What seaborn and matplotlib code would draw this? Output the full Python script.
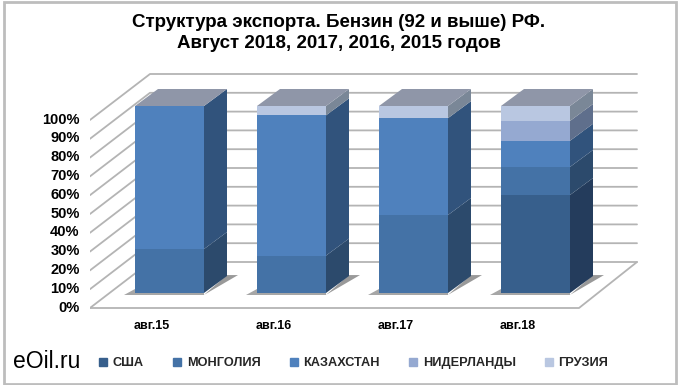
import pandas as pd
import numpy as np
import matplotlib
matplotlib.use('Agg')
import matplotlib.pyplot as plt
from matplotlib.lines import Line2D
from matplotlib.patches import Polygon, Rectangle
import seaborn as sns

months = ['авг.15', 'авг.16', 'авг.17', 'авг.18']
countries = ['США', 'МОНГОЛИЯ', 'КАЗАХСТАН', 'НИДЕРЛАНДЫ', 'ГРУЗИЯ']
usa = [0, 0, 0, 52.4]
mongolia = [23.5, 20, 41.7, 15]
kazakhstan = [76.5, 75, 51.8, 14]
netherlands = [0, 0, 0, 10.6]
georgia = [0, 5, 6.5, 8]
pct_ticks = [0, 10, 20, 30, 40, 50, 60, 70, 80, 90, 100]

front_colors = ['#375f8c', '#4472a6', '#4f81bd', '#95a9d1', '#b9c7e1']
side_colors = ['#243c5c', '#2c4a6c', '#31537c', '#5f6f8c', '#7a8797']
top_color = '#8f96a8'
grid_color = '#b4b4b4'

sns.set_theme(style='white')
plt.rcParams['font.family'] = ['Liberation Sans', 'DejaVu Sans']

# Long table, one cumulative top per country and month
df = pd.DataFrame({'month': months, 'США': usa, 'МОНГОЛИЯ': mongolia, 'КАЗАХСТАН': kazakhstan,
                   'НИДЕРЛАНДЫ': netherlands, 'ГРУЗИЯ': georgia})
cum = df[countries].cumsum(axis=1)
cum['month'] = months

fig = plt.figure(figsize=(6.8, 3.85), dpi=100)
W, H = 680, 385
# plot area in pixels: x 90..640, y 70..310
ax = fig.add_axes([90 / W, (H - 310) / H, 550 / W, 240 / H])

# 1 category = 122 px, 1% = 1.87 px
sx, sy = 122.0, 1.87
bar_w = 69 / sx
side_dx, side_dy = 23 / sx, 17 / sy

# tallest first so that the shorter stacks sit on top
for c, col in reversed(list(zip(countries, front_colors))):
    sns.barplot(data=cum, x='month', y=c, color=col, saturation=1, width=bar_w,
                order=months, ax=ax, zorder=3, linewidth=0)

ax.set_xlim((90 - 169.5) / sx, (640 - 169.5) / sx)
ax.set_ylim(-17 / sy, 223 / sy)

# Walls and floor of the 3D box
fl_x, fl_y = -0.652, -15 / sy
bk_x, bk_y = (150 - 169.5) / sx, 31 / sy
bk_r = (637 - 169.5) / sx
fr_r = (579 - 169.5) / sx
step = 18.8 / sy / 10
for p in pct_ticks:
    ax.plot([fl_x, bk_x, bk_r], [fl_y + p * step, bk_y + p * step, bk_y + p * step],
            color=grid_color, lw=1.3, zorder=1)
ax.plot([fl_x, fr_r, bk_r], [fl_y, fl_y, bk_y], color=grid_color, lw=1.3, zorder=1)

# Side faces, caps and floor shadows from the same values
for i, m in enumerate(months):
    x0, x1 = i - bar_w / 2, i + bar_w / 2
    bottom = 0
    for c, col in zip(countries, side_colors):
        top = cum.loc[i, c]
        if top > bottom:
            ax.add_patch(Polygon([(x1, bottom), (x1 + side_dx, bottom + side_dy),
                                  (x1 + side_dx, top + side_dy), (x1, top)],
                                 fc=col, ec='none', zorder=3))
        bottom = top
    ax.add_patch(Polygon([(x0, 100), (x1, 100), (x1 + side_dx, 100 + side_dy), (x0 + side_dx, 100 + side_dy)],
                         fc=top_color, ec='none', zorder=3))
    ax.add_patch(Polygon([(x1, -1), (x1 + side_dx + 0.09, side_dy + 0.5), (x1 + side_dx, side_dy + 0.5)],
                         fc='#777777', ec='none', alpha=0.75, zorder=2))
    ax.add_patch(Polygon([(x0 - 0.09, -1), (x1, -1), (x1, 2), (x0, 2)],
                         fc='#888888', ec='none', alpha=0.75, zorder=2))

ax.set_xticks([i - 18 / sx for i in range(len(months))])
ax.set_xticklabels(months, fontsize=9, fontweight='bold', color='black')
ax.set_yticks([fl_y + 2 / sy + p * step for p in pct_ticks])
ax.set_yticklabels([f'{p}%' for p in pct_ticks], fontsize=10.5, fontweight='bold', color='black')
ax.tick_params(axis='x', length=0, pad=7)
ax.tick_params(axis='y', length=0, pad=7.5)
ax.set_xlabel('')
ax.set_ylabel('')
sns.despine(ax=ax, left=True, bottom=True)
ax.patch.set_visible(False)

fig.suptitle('Структура экспорта. Бензин (92 и выше) РФ.\nАвгуст 2018, 2017, 2016, 2015 годов',
             x=339 / W, y=1 - 14 / H, va='top', fontsize=13.5, fontweight='bold', color='black', linespacing=1.3)

handles = [Line2D([], [], marker='s', ls='', ms=5.5, color=col) for col in front_colors]
fig.legend(handles, countries, loc='center left', bbox_to_anchor=(97 / W, 1 - 363 / H), ncol=5,
           frameon=False, prop={'size': 9.2, 'weight': 'bold'}, handletextpad=0.25, columnspacing=2.1,
           handlelength=1.0, borderpad=0, borderaxespad=0)
fig.text(13 / W, 1 - 361 / H, 'eOil.ru', fontsize=16.5, va='center', color='black')

fig.add_artist(Rectangle((3.5 / W, 1.5 / H), 672 / W, 382 / H, transform=fig.transFigure, fc='none',
                         ec='#bdbdbd', lw=2))

fig.savefig('out.png', dpi=100)
